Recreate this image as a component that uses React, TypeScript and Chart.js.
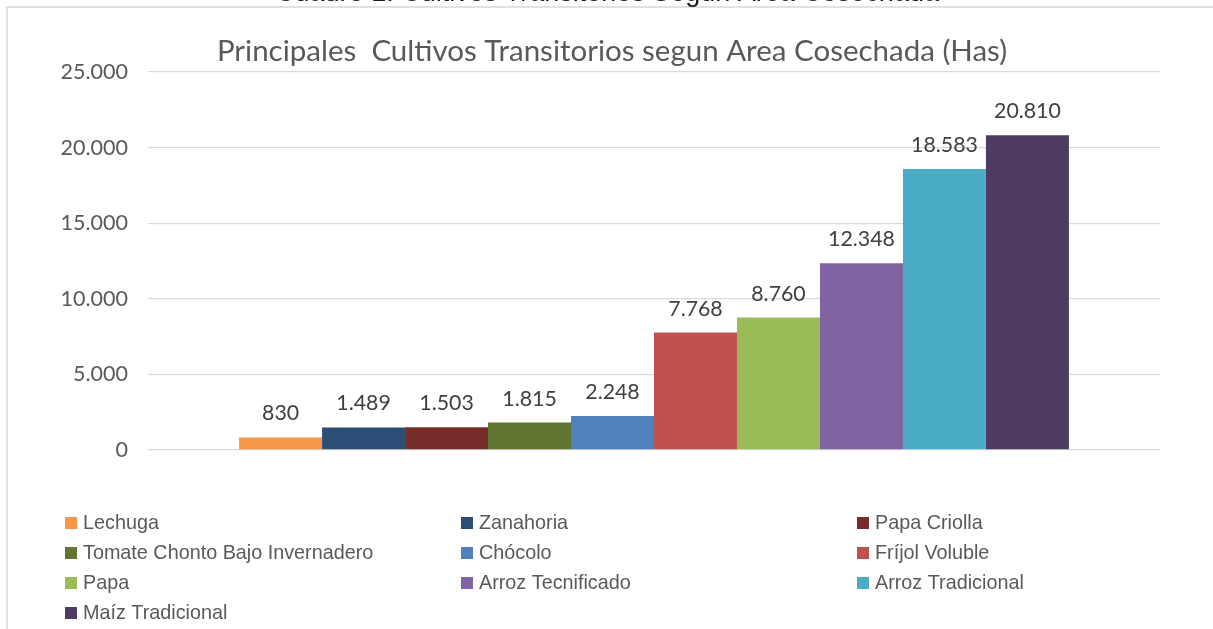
import React, { useEffect, useRef } from "react";
import { Chart, registerables } from "chart.js";

Chart.register(...registerables);

const categories = ["Principales Cultivos Transitorios"];
const seriesNames = [
  "Lechuga",
  "Zanahoria",
  "Papa Criolla",
  "Tomate Chonto Bajo Invernadero",
  "Chócolo",
  "Fríjol Voluble",
  "Papa",
  "Arroz Tecnificado",
  "Arroz Tradicional",
  "Maíz Tradicional",
];
const seriesValues = [830, 1489, 1503, 1815, 2248, 7768, 8760, 12348, 18583, 20810];
const seriesColors = [
  "#f79646",
  "#2c4d75",
  "#772c2a",
  "#5f7530",
  "#4f81bd",
  "#c0504d",
  "#9bbb59",
  "#8064a2",
  "#4bacc6",
  "#4d3b62",
];
const titleText = "Principales  Cultivos Transitorios segun Area Cosechada (Has)";
const topText = "Cuadro 1. Cultivos Transitorios Segun Area Cosechada";
const yMax = 25000;
const yStep = 5000;

const fmt = (n: number) => String(Math.round(n)).replace(/\B(?=(\d{3})+(?!\d))/g, ".");

const decorPlugin = {
  id: "decor",
  beforeDraw(chart: any) {
    const ctx = chart.ctx;
    ctx.save();
    ctx.fillStyle = "#ffffff";
    ctx.fillRect(0, 0, chart.width, chart.height);
    // frame
    ctx.strokeStyle = "#d9d9d9";
    ctx.lineWidth = 1.5;
    ctx.beginPath();
    ctx.moveTo(7, chart.height);
    ctx.lineTo(7, 7);
    ctx.lineTo(chart.width, 7);
    ctx.stroke();
    // cut-off heading above the frame
    ctx.fillStyle = "#1a1a1a";
    ctx.font = "27px 'Liberation Sans', Arial, sans-serif";
    ctx.textAlign = "center";
    ctx.textBaseline = "alphabetic";
    ctx.fillText(topText, 607, 0.5);
    // title
    ctx.fillStyle = "#595959";
    ctx.font = "29.5px Lato, 'Open Sans', sans-serif";
    ctx.textBaseline = "middle";
    ctx.fillText(titleText, 612, 51);
    ctx.restore();
  },
  afterDatasetsDraw(chart: any) {
    const ctx = chart.ctx;
    ctx.save();
    ctx.fillStyle = "#404040";
    ctx.font = "21.3px Lato, 'Open Sans', sans-serif";
    ctx.textAlign = "center";
    ctx.textBaseline = "alphabetic";
    chart.data.datasets.forEach((ds: any, i: number) => {
      const meta = chart.getDatasetMeta(i);
      const bar = meta.data[0];
      if (!bar) return;
      ctx.fillText(fmt(ds.data[0]), bar.x, bar.y - 17);
    });
    // legend
    const cols = [65, 461, 857];
    const rows = [523, 553, 583, 613];
    ctx.font = "19.8px 'Liberation Sans', Arial, sans-serif";
    ctx.textAlign = "left";
    ctx.textBaseline = "middle";
    chart.data.datasets.forEach((ds: any, i: number) => {
      const c = i % 3;
      const r = Math.floor(i / 3);
      const x = cols[c];
      const y = rows[r];
      ctx.fillStyle = ds.backgroundColor;
      ctx.fillRect(x, y - 6, 12, 12);
      ctx.fillStyle = "#595959";
      ctx.fillText(ds.label, x + 18, y + 1);
    });
    ctx.restore();
  },
};

export default function App() {
  const ref = useRef<HTMLCanvasElement | null>(null);
  useEffect(() => {
    if (!ref.current) return;
    const chart = new Chart(ref.current, {
      type: "bar",
      data: {
        labels: categories,
        datasets: seriesNames.map((name, i) => ({
          label: name,
          data: [seriesValues[i]],
          backgroundColor: seriesColors[i],
          borderWidth: 0,
          categoryPercentage: 0.82,
          barPercentage: 1.0,
        })),
      },
      options: {
        animation: false,
        responsive: false,
        maintainAspectRatio: false,
        layout: { padding: { left: 0, top: 72, right: 53, bottom: 179 } },
        plugins: {
          legend: { display: false },
          title: { display: false },
          tooltip: { enabled: false },
        },
        scales: {
          x: { display: false, grid: { display: false } },
          y: {
            min: 0,
            max: yMax,
            afterFit: (scale: any) => {
              scale.width = 148;
            },
            ticks: {
              stepSize: yStep,
              padding: 20,
              color: "#595959",
              font: { family: "Lato, 'Open Sans', sans-serif", size: 21.5 },
              callback: (v: any) => fmt(Number(v)),
            },
            grid: { color: "#d9d9d9", lineWidth: 1.3, drawTicks: false },
            border: { display: false },
          },
        },
      },
      plugins: [decorPlugin],
    });
    return () => chart.destroy();
  }, []);
  return (
    <div style={{ position: "absolute", left: 0, top: 0, width: 1213, height: 629, background: "#fff" }}>
      <canvas ref={ref} width={1213} height={629} style={{ display: "block", width: 1213, height: 629 }} />
    </div>
  );
}
